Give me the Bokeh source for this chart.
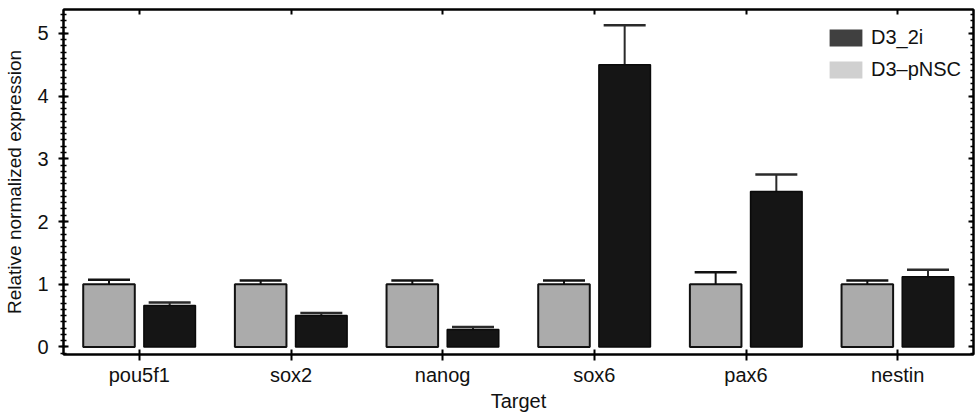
from bokeh.plotting import figure
from bokeh.models import (ColumnDataSource, FactorRange, Range1d, Whisker, TeeHead,
                          LinearAxis, CategoricalAxis, SingleIntervalTicker, Legend, LegendItem,
                          CustomLabelingPolicy)
from bokeh.transform import dodge
from bokeh.embed import file_html
from bokeh.resources import INLINE

targets = ["pou5f1", "sox2", "nanog", "sox6", "pax6", "nestin"]
pnsc_mean = [1.0, 1.0, 1.0, 1.0, 1.0, 1.0]
pnsc_upper = [1.07, 1.06, 1.06, 1.06, 1.19, 1.06]
pnsc_lower = [0.89, 0.92, 0.93, 0.93, 0.80, 0.93]
d2i_mean = [0.66, 0.50, 0.28, 4.50, 2.48, 1.12]
d2i_upper = [0.71, 0.54, 0.32, 5.13, 2.75, 1.23]
d2i_lower = [0.61, 0.46, 0.24, 3.88, 2.22, 1.01]
series_names = ["D3_2i", "D3\u2013pNSC"]

FONT = "Liberation Sans"
FS_TICK = "20px"

src = ColumnDataSource(data=dict(target=targets, pnsc=pnsc_mean, pnsc_up=pnsc_upper,
                                 pnsc_lo=pnsc_lower, d2i=d2i_mean, d2i_up=d2i_upper,
                                 d2i_lo=d2i_lower))

p = figure(width=977, height=414, x_range=FactorRange(factors=targets, range_padding=0),
           y_range=Range1d(-0.12, 5.38), output_backend="svg", toolbar_location=None,
           min_border_left=63, min_border_right=3, min_border_top=9, min_border_bottom=57,
           x_axis_label="Target", y_axis_label="Relative normalized expression")
p.xgrid.visible = False
p.ygrid.visible = False
p.outline_line_color = "black"
p.outline_line_width = 2
p.background_fill_color = "white"

p.vbar(x=dodge("target", -0.2, range=p.x_range), top="pnsc", bottom=0, width=0.34,
       source=src, fill_color="#ababab", line_color="#111111", line_width=2)
p.vbar(x=dodge("target", 0.2, range=p.x_range), top="d2i", bottom=0, width=0.34,
       source=src, fill_color="#151515", line_color="#0a0a0a", line_width=1.5)

w1 = Whisker(base=dodge("target", -0.2, range=p.x_range), upper="pnsc_up", lower="pnsc_lo",
             source=src, line_color="#111111", line_width=2,
             upper_head=TeeHead(size=42, line_width=2.5, line_color="#111111"),
             lower_head=TeeHead(size=42, line_width=2.5, line_color="#111111"))
w2 = Whisker(base=dodge("target", 0.2, range=p.x_range), upper="d2i_up", lower="d2i_lo",
             source=src, line_color="#2a2a2a", line_width=2,
             upper_head=TeeHead(size=42, line_width=2.5, line_color="#2a2a2a"),
             lower_head=TeeHead(size=42, line_width=2.5, line_color="#2a2a2a"))
p.add_layout(w1)
p.add_layout(w2)

# legend proxies (zero-height, not visible in the plot area)
leg_src = ColumnDataSource(data=dict(x=targets[:1], top=[0.0]))
leg_a = p.vbar(x="x", top="top", bottom="top", width=0.01, source=leg_src,
               fill_color="#404040", line_color=None)
leg_b = p.vbar(x="x", top="top", bottom="top", width=0.01, source=leg_src,
               fill_color="#d0d0d0", line_color=None)
legend = Legend(items=[LegendItem(label=series_names[0], renderers=[leg_a]),
                       LegendItem(label=series_names[1], renderers=[leg_b])],
                location=(762, 273), glyph_width=41, glyph_height=21, spacing=9,
                padding=0, margin=0, label_standoff=5, border_line_color=None,
                background_fill_alpha=0, label_text_font=FONT, label_text_font_size=FS_TICK,
                label_text_color="#111111")
p.add_layout(legend)

# left axis
ya = p.yaxis[0]
ya.ticker = SingleIntervalTicker(interval=1, num_minor_ticks=10)
ya.major_tick_in = 5
ya.major_tick_out = 5
ya.minor_tick_in = 3
ya.minor_tick_out = 3
ya.major_tick_line_width = 2
ya.minor_tick_line_width = 1.5
ya.axis_line_width = 2
ya.major_label_standoff = 10
ya.axis_label_standoff = 9
ya.axis_label_text_font_size = "19px"

xa = p.xaxis[0]
xa.major_tick_in = 5
xa.major_tick_out = 6
xa.major_tick_line_width = 2
xa.axis_line_width = 2
xa.minor_tick_line_color = None
xa.major_label_standoff = 3
xa.axis_label_standoff = 1
xa.axis_label_text_font_size = "20px"

for ax in (xa, ya):
    ax.axis_label_text_font = FONT
    ax.axis_label_text_font_style = "normal"
    ax.axis_label_text_color = "#111111"
    ax.major_label_text_font = FONT
    ax.major_label_text_font_size = FS_TICK
    ax.major_label_text_color = "#111111"
    ax.axis_line_color = "black"

hide_all = CustomLabelingPolicy(code="""
for (const i of indices)
    indices.unset(i)
return indices
""")

# top axis (ticks only)
top = CategoricalAxis(major_tick_in=5, major_tick_out=0, major_tick_line_width=2,
                      major_label_text_font_size="1px", major_label_standoff=0,
                      major_label_policy=hide_all, axis_line_width=2)
p.add_layout(top, "above")

# right axis (ticks only)
right = LinearAxis(ticker=SingleIntervalTicker(interval=1, num_minor_ticks=10),
                   major_tick_in=5, major_tick_out=0, minor_tick_in=3, minor_tick_out=0,
                   major_tick_line_width=2, minor_tick_line_width=1.5,
                   major_label_text_font_size="1px", major_label_standoff=0,
                   major_label_policy=hide_all, axis_line_width=2)
p.add_layout(right, "right")

open("out.html", "w").write(file_html(p, INLINE))
